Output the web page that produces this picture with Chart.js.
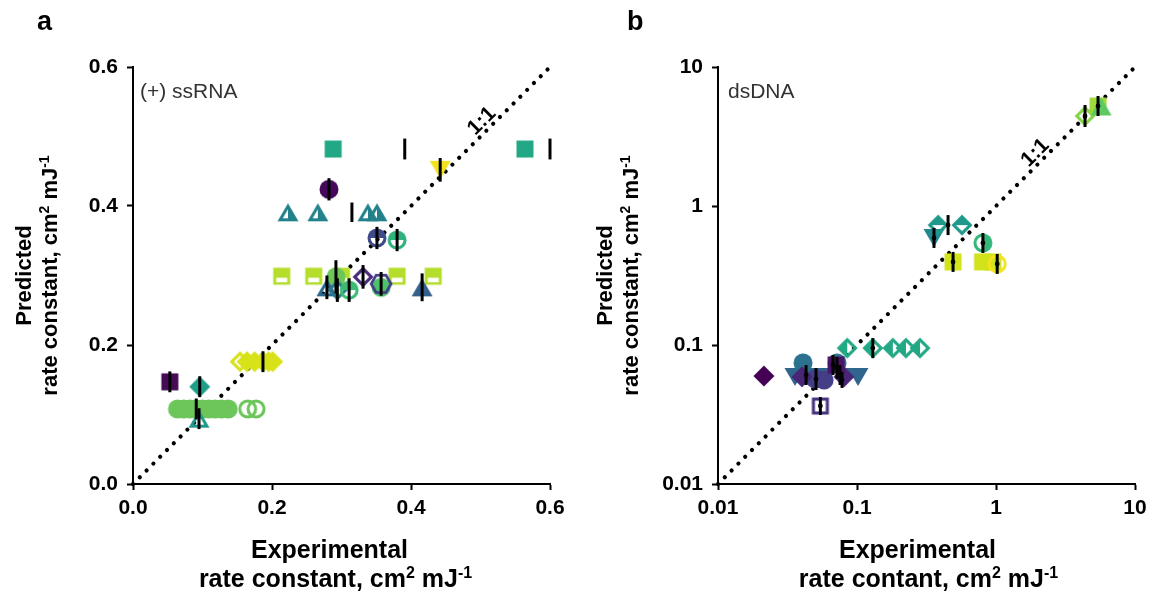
<!DOCTYPE html>
<html>
<head>
<meta charset="utf-8">
<script src="https://cdn.jsdelivr.net/npm/chart.js@4.4.1/dist/chart.umd.min.js"></script>
<style>
  html, body { margin: 0; padding: 0; background: #fff; }
  .panel { position: absolute; top: 0; height: 594px; }
  #panelA { left: 0; width: 576px; }
  #panelB { left: 576px; width: 577px; }
</style>
</head>
<body>
<div class="panel" id="panelA"><canvas id="ssrnaChart"></canvas></div>
<div class="panel" id="panelB"><canvas id="dsdnaChart"></canvas></div>
<script>
// ---- (+) ssRNA: experimental vs predicted rate constants (cm2/mJ)
const ssrnaX = [0.064, 0.073, 0.082, 0.091, 0.100, 0.109, 0.118, 0.127, 0.137, 0.165, 0.177,
    0.095, 0.096, 0.053,
    0.164, 0.175, 0.187, 0.195, 0.201, 0.154,
    0.214, 0.260, 0.300, 0.380, 0.432,
    0.292, 0.279, 0.294, 0.311, 0.357, 0.331, 0.357, 0.416,
    0.351, 0.380,
    0.223, 0.266, 0.338, 0.351, 0.315,
    0.282, 0.442, 0.288, 0.564, 0.391, 0.600];
const ssrnaY = [0.108, 0.108, 0.108, 0.108, 0.108, 0.108, 0.108, 0.108, 0.108, 0.108, 0.108,
    0.094, 0.140, 0.147,
    0.176, 0.176, 0.176, 0.176, 0.176, 0.176,
    0.299, 0.299, 0.299, 0.299, 0.299,
    0.298, 0.283, 0.279, 0.279, 0.283, 0.298, 0.288, 0.283,
    0.354, 0.351,
    0.391, 0.391, 0.391, 0.391, 0.391,
    0.424, 0.452, 0.482, 0.482, 0.482, 0.482];
// +/- spread of each prediction (0 = none)
const ssrnaErr = [0, 0, 0, 0.015, 0, 0, 0, 0, 0, 0, 0,
    0.015, 0.015, 0.015,
    0, 0, 0.015, 0, 0, 0,
    0, 0, 0, 0, 0,
    0.024, 0.017, 0.017, 0.017, 0, 0.017, 0.017, 0.02,
    0.016, 0.016,
    0, 0, 0, 0, 0.014,
    0.016, 0.017, 0, 0, 0.015, 0.015];
const ssrnaMark = ['cLime', 'cLime', 'cLime', 'cLime', 'cLime', 'cLime', 'cLime', 'cLime', 'cLime', 'cLimeOpen', 'cLimeOpen',
    'tTealTop', 'dTeal', 'sPlum',
    'dYellow', 'dYellow', 'dYellow', 'dYellow', 'dYellow', 'dYellowOpen',
    'sChartHalf', 'sChartHalf', 'sChartHalf', 'sChartHalf', 'sChartHalf',
    'cLime', 'tBlueOpen', 'dSteelOpen', 'cGreenTop', 'cMint', 'dIndigoOpen', 'hIndigoOpen', 'tNavy',
    'cNavyTop', 'cJadeTop',
    'tTealRight', 'tTealRight', 'tTealRight', 'tTealRight', 'none',
    'cPlum', 'vYellowTop', 'sJade', 'sJade', 'none', 'none'];

// ---- dsDNA
const dsdnaX = [0.0358, 0.0459, 0.0589, 0.082, 0.1016,
    0.0409, 0.0718, 0.050, 0.058,
    0.0402, 0.0805, 0.0707, 0.0214, 0.0545,
    0.0430, 0.0507, 0.0672, 0.0718, 0.0755, 0.078,
    0.085, 0.13, 0.181, 0.225, 0.284,
    0.358, 0.383, 0.569, 0.452,
    0.491, 0.80, 0.95, 0.805, 1.02,
    4.37, 5.42, 5.7];
const dsdnaY = [0.0589, 0.0589, 0.0589, 0.0589, 0.0589,
    0.0743, 0.0743, 0.057, 0.056,
    0.059, 0.059, 0.0718, 0.0598, 0.0364,
    0.0608, 0.0569, 0.0718, 0.0684, 0.0608, 0.056,
    0.095, 0.095, 0.095, 0.095, 0.095,
    0.589, 0.729, 0.729, 0.729,
    0.396, 0.396, 0.396, 0.542, 0.383,
    4.44, 5.24, 5.2];
// multiplicative spread (1 = none)
const dsdnaErr = [1, 1, 1, 1, 1,
    1, 1, 1, 1,
    1, 1, 1, 1, 1.16,
    1.18, 1.2, 1.18, 1.2, 1.18, 1.14,
    1, 1.18, 1, 1, 1,
    1.18, 1, 1, 1.18,
    1.18, 1, 1, 1.18, 1.18,
    1.2, 1.18, 1];
const dsdnaMark = ['vBlue', 'vBlue', 'vBlue', 'vBlue', 'vBlue',
    'cSteel', 'cSteel', 'cIndigo', 'cIndigo',
    'dViolet', 'dViolet', 'sViolet', 'dPlum', 'sIndigoOpen',
    'none', 'none', 'none', 'none', 'none', 'none',
    'dJadeLeft', 'dJadeLeft', 'dJadeLeft', 'dJadeLeft', 'dJadeLeft',
    'vTeal', 'dTealTop', 'dTealTop', 'none',
    'sCitron', 'sCitron', 'sCitron', 'cGreenRight', 'cYellowOpen',
    'dLeafOpen', 'sLeaf', 'tGreen'];

const FONT = 'Arial, "Liberation Sans", Helvetica, sans-serif';

// shape, colour, fill ('full', 'open', or which half is solid)
const MARK_STYLES = {
    cLime: ['circle', '#6cc65a', 'full'],
    cLimeOpen: ['circle', '#6cc65a', 'open'],
    cMint: ['circle', '#4cc26c', 'full'],
    cGreenTop: ['circle', '#3dbb74', 'top'],
    cJadeTop: ['circle', '#2db27d', 'top'],
    cNavyTop: ['circle', '#3e4a89', 'top'],
    cPlum: ['circle', '#45085a', 'full'],
    cSteel: ['circle', '#2c728e', 'full'],
    cIndigo: ['circle', '#433e85', 'full'],
    cGreenRight: ['circle', '#35b779', 'right'],
    cYellowOpen: ['circle', '#f2e41f', 'open'],
    sPlum: ['square', '#450b57', 'full'],
    sJade: ['square', '#22a884', 'full'],
    sChartHalf: ['square', '#b5dd2b', 'stripe'],
    sViolet: ['square', '#4a1468', 'full'],
    sIndigoOpen: ['square', '#46327e', 'open'],
    sCitron: ['square', '#d2e21b', 'full'],
    sLeaf: ['square', '#9fd93a', 'full'],
    dTeal: ['diamond', '#1f9e89', 'full'],
    dYellow: ['diamond', '#d8e219', 'full'],
    dYellowOpen: ['diamond', '#d8e219', 'open'],
    dSteelOpen: ['diamond', '#2a788e', 'open'],
    dIndigoOpen: ['diamond', '#472d7b', 'open'],
    dViolet: ['diamond', '#482576', 'full'],
    dPlum: ['diamond', '#440154', 'full'],
    dJadeLeft: ['diamond', '#22a884', 'left'],
    dTealTop: ['diamond', '#1f9a8a', 'top'],
    dLeafOpen: ['diamond', '#86d549', 'open'],
    hIndigoOpen: ['hexagon', '#433e85', 'open'],
    tTealTop: ['triangle', '#1f9a8a', 'top'],
    tTealRight: ['triangle', '#23818c', 'right'],
    tBlueOpen: ['triangle', '#2c688e', 'open'],
    tNavy: ['triangle', '#355f8d', 'full'],
    tGreen: ['triangle', '#5ec962', 'full'],
    vYellowTop: ['down', '#f3e222', 'top'],
    vBlue: ['down', '#30668e', 'full'],
    vTeal: ['down', '#23898e', 'full']
};

// shape outline around (0,0); s scales about the centroid
function tracePath(ctx, shape, s) {
    ctx.beginPath();
    if (shape === 'circle') {
        ctx.arc(0, 0, 9.5 * s, 0, Math.PI * 2);
    } else if (shape === 'square') {
        ctx.rect(-8.5 * s, -8.5 * s, 17 * s, 17 * s);
    } else if (shape === 'diamond') {
        ctx.moveTo(0, -10.5 * s); ctx.lineTo(10.5 * s, 0); ctx.lineTo(0, 10.5 * s); ctx.lineTo(-10.5 * s, 0);
    } else if (shape === 'hexagon') {
        for (let k = 0; k < 6; k++) {
            const a = k * Math.PI / 3;
            ctx.lineTo(11.5 * s * Math.cos(a), 11.5 * s * Math.sin(a));
        }
    } else if (shape === 'triangle') {
        ctx.moveTo(0, 3 - 12 * s);
        ctx.lineTo(10.5 * s, 3 + 6 * s);
        ctx.lineTo(-10.5 * s, 3 + 6 * s);
    } else if (shape === 'down') {
        ctx.moveTo(0, -3 + 12 * s);
        ctx.lineTo(10.5 * s, -3 - 6 * s);
        ctx.lineTo(-10.5 * s, -3 - 6 * s);
    }
    ctx.closePath();
}

const INNER = { circle: 0.68, square: 0.64, diamond: 0.58, hexagon: 0.72, triangle: 0.5, down: 0.5 };

function buildMarker(key) {
    const [shape, color, fill] = MARK_STYLES[key];
    const size = 28;
    const cv = document.createElement('canvas');
    cv.width = size; cv.height = size;
    const ctx = cv.getContext('2d');
    ctx.translate(size / 2, size / 2);
    ctx.fillStyle = color;
    tracePath(ctx, shape, 1);
    ctx.fill();
    if (fill !== 'full') {
        // punch out the hollow part of the marker
        ctx.save();
        ctx.globalCompositeOperation = 'destination-out';
        ctx.fillStyle = '#000';
        if (fill === 'stripe') {
            ctx.fillRect(-5.5, 1.5, 11, 4.5);
        } else {
            ctx.beginPath();
            if (fill === 'top') ctx.rect(-20, 0, 40, 20);
            else if (fill === 'right') ctx.rect(-20, -20, 20, 40);
            else if (fill === 'left') ctx.rect(0, -20, 20, 40);
            else ctx.rect(-20, -20, 40, 40);
            ctx.clip();
            tracePath(ctx, shape, INNER[shape]);
            ctx.fill();
        }
        ctx.restore();
    }
    return cv;
}

const markerCache = {};
function markerFor(key) {
    if (key === 'none') return 'circle';
    if (!markerCache[key]) markerCache[key] = buildMarker(key);
    return markerCache[key];
}

// text with superscripts: parts = [[text, isSup], ...]
function drawRich(ctx, parts, x, y, size) {
    const widths = parts.map(([t, sup]) => {
        ctx.font = `bold ${sup ? Math.round(size * 0.62) : size}px ${FONT}`;
        return ctx.measureText(t).width;
    });
    let cx = x - widths.reduce((a, b) => a + b, 0) / 2;
    ctx.textAlign = 'left';
    parts.forEach(([t, sup], i) => {
        ctx.font = `bold ${sup ? Math.round(size * 0.62) : size}px ${FONT}`;
        ctx.fillText(t, cx, sup ? y - size * 0.38 : y);
        cx += widths[i];
    });
}

function makePanel(canvasId, p) {
    const n = p.xs.length;
    const points = p.xs.map((x, i) => ({ x, y: p.ys[i] }));

    const errorBars = {
        id: 'errorBars',
        afterDatasetsDraw(chart) {
            const ctx = chart.ctx;
            const xs = chart.scales.x, ys = chart.scales.y;
            ctx.save();
            ctx.strokeStyle = '#000';
            ctx.fillStyle = '#000';
            ctx.lineWidth = 3;
            for (let i = 0; i < n; i++) {
                const span = p.spread(i);
                if (!span) continue;
                const px = xs.getPixelForValue(p.xs[i]);
                const top = ys.getPixelForValue(span[1]);
                const bot = ys.getPixelForValue(span[0]);
                ctx.beginPath();
                ctx.moveTo(px, top);
                ctx.lineTo(px, bot);
                ctx.stroke();
                if (p.centerDot) {
                    ctx.beginPath();
                    ctx.arc(px, ys.getPixelForValue(p.ys[i]), 2.4, 0, Math.PI * 2);
                    ctx.fill();
                }
            }
            ctx.restore();
        }
    };

    const labels = {
        id: 'panelLabels',
        afterDraw(chart) {
            const ctx = chart.ctx;
            const xs = chart.scales.x, ys = chart.scales.y;
            const area = chart.chartArea;
            ctx.save();
            ctx.fillStyle = '#000';
            ctx.textBaseline = 'alphabetic';
            // panel letter
            ctx.font = `bold 27px ${FONT}`;
            ctx.textAlign = 'left';
            ctx.fillText(p.letter, p.letterX, 30);
            // subset tag
            ctx.font = `21px ${FONT}`;
            ctx.fillStyle = '#333';
            ctx.fillText(p.tag, area.left + p.tagInset, 98);
            ctx.fillStyle = '#000';
            // 1:1 label along the diagonal
            const lx = xs.getPixelForValue(p.oneToOne), ly = ys.getPixelForValue(p.oneToOne);
            ctx.save();
            ctx.translate(lx, ly);
            ctx.rotate(-Math.PI / 4);
            ctx.font = `bold 21px ${FONT}`;
            ctx.textAlign = 'center';
            ctx.fillText('1:1', 0, -4);
            ctx.restore();
            // x title
            const mid = (area.left + area.right) / 2;
            ctx.font = `bold 25px ${FONT}`;
            ctx.textAlign = 'center';
            ctx.fillText('Experimental', mid + p.xTitleShift[0], 558);
            drawRich(ctx, p.xTitle2, mid + p.xTitleShift[1], 587, 25);
            // y title
            const midY = (area.top + area.bottom) / 2;
            ctx.save();
            ctx.translate(p.yTitleX[0], midY);
            ctx.rotate(-Math.PI / 2);
            ctx.font = `bold 22px ${FONT}`;
            ctx.textAlign = 'center';
            ctx.fillText('Predicted', 0, 0);
            ctx.restore();
            ctx.save();
            ctx.translate(p.yTitleX[1], midY);
            ctx.rotate(-Math.PI / 2);
            drawRich(ctx, [['rate constant, cm', false], ['2', true], [' mJ', false], ['-1', true]], 0, 0, 22);
            ctx.restore();
            ctx.restore();
        }
    };

    const axisBase = (isX) => ({
        type: p.scaleType,
        min: p.min,
        max: p.max,
        border: { display: true, color: '#000', width: 2 },
        grid: { drawOnChartArea: false, drawTicks: true, tickLength: 6, tickWidth: 2, tickColor: '#000' },
        ticks: {
            color: '#000',
            font: { family: FONT, size: 21, weight: 'bold' },
            padding: isX ? 6 : 9,
            maxRotation: 0,
            autoSkip: false,
            stepSize: p.step,
            callback: p.tickFormat
        },
        afterBuildTicks: (scale) => { scale.ticks = p.tickValues.map(v => ({ value: v })); },
        afterFit: (scale) => {
            if (isX) scale.height = 110; else scale.width = p.yAxisWidth;
        }
    });

    return new Chart(document.getElementById(canvasId), {
        type: 'scatter',
        data: {
            datasets: [{
                data: points,
                pointStyle: p.marks.map(markerFor),
                pointRadius: p.marks.map(k => (k === 'none' ? 0 : 10)),
                clip: false,
                order: 0
            }, {
                // 1:1 reference line, dotted
                data: [{ x: p.min, y: p.min }, { x: p.max, y: p.max }],
                showLine: true,
                borderColor: '#000',
                borderWidth: 4.2,
                borderDash: [0.01, 9.6],
                borderCapStyle: 'round',
                pointRadius: 0,
                clip: false,
                order: 1
            }]
        },
        options: {
            responsive: true,
            maintainAspectRatio: false,
            animation: false,
            events: [],
            layout: { padding: { top: 67, right: p.rightPad, left: 0, bottom: 0 } },
            plugins: { legend: { display: false }, tooltip: { enabled: false } },
            scales: { x: axisBase(true), y: axisBase(false) }
        },
        plugins: [errorBars, labels]
    });
}

makePanel('ssrnaChart', {
    xs: ssrnaX, ys: ssrnaY, marks: ssrnaMark,
    spread: (i) => (ssrnaErr[i] ? [ssrnaY[i] - ssrnaErr[i], ssrnaY[i] + ssrnaErr[i]] : null),
    scaleType: 'linear', min: 0, max: 0.6, step: 0.2,
    tickValues: [0, 0.2, 0.4, 0.6],
    tickFormat: (v) => Number(v).toFixed(1),
    yAxisWidth: 133, rightPad: 26,
    letter: 'a', letterX: 37, tag: '(+) ssRNA', tagInset: 7, oneToOne: 0.512,
    xTitle2: [['rate constant, cm', false], ['2', true], [' mJ', false], ['-1', true]],
    xTitleShift: [-12, -6], yTitleX: [31, 57], centerDot: false
});

makePanel('dsdnaChart', {
    xs: dsdnaX, ys: dsdnaY, marks: dsdnaMark,
    spread: (i) => (dsdnaErr[i] > 1 ? [dsdnaY[i] / dsdnaErr[i], dsdnaY[i] * dsdnaErr[i]] : null),
    scaleType: 'logarithmic', min: 0.01, max: 10,
    tickValues: [0.01, 0.1, 1, 10],
    tickFormat: (v) => String(Number(v)),
    yAxisWidth: 142, rightPad: 18,
    letter: 'b', letterX: 51, tag: 'dsDNA', tagInset: 10, oneToOne: 2.15,
    xTitle2: [['rate contant, cm', false], ['2', true], [' mJ', false], ['-1', true]],
    xTitleShift: [-9, 2], yTitleX: [36, 62], centerDot: true
});
</script>
</body>
</html>
